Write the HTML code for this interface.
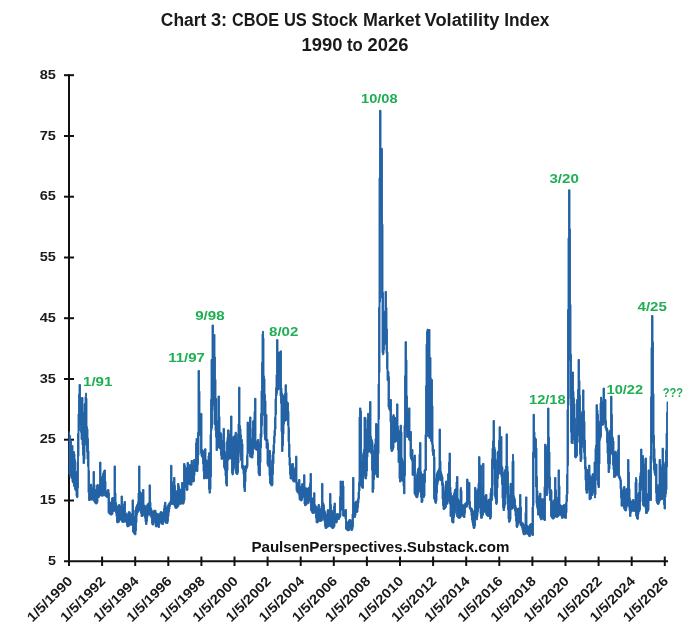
<!DOCTYPE html>
<html><head><meta charset="utf-8"><title>Chart 3: CBOE US Stock Market Volatility Index</title>
<style>
html,body{margin:0;padding:0;background:#fff;}
svg{display:block;font-family:"Liberation Sans",Arial,sans-serif;font-weight:bold;}
</style></head>
<body>
<svg width="700" height="635" viewBox="0 0 700 635">
<rect width="700" height="635" fill="#fff"/>
<g font-size="18" fill="#1a1a1a"><text y="26.2"><tspan x="160.8" textLength="45.5" lengthAdjust="spacingAndGlyphs">Chart</tspan> <tspan x="210.9" textLength="16.2" lengthAdjust="spacingAndGlyphs">3:</tspan> <tspan x="232.1" textLength="46.9" lengthAdjust="spacingAndGlyphs">CBOE</tspan> <tspan x="283.9" textLength="22.9" lengthAdjust="spacingAndGlyphs">US</tspan> <tspan x="311.6" textLength="46.2" lengthAdjust="spacingAndGlyphs">Stock</tspan> <tspan x="363.0" textLength="57.6" lengthAdjust="spacingAndGlyphs">Market</tspan> <tspan x="424.6" textLength="74.8" lengthAdjust="spacingAndGlyphs">Volatility</tspan> <tspan x="504.2" textLength="45.2" lengthAdjust="spacingAndGlyphs">Index</tspan></text><text y="51.3"><tspan x="301.6" textLength="40.9" lengthAdjust="spacingAndGlyphs">1990</tspan> <tspan x="347.0" textLength="15.8" lengthAdjust="spacingAndGlyphs">to</tspan> <tspan x="367.5" textLength="41.0" lengthAdjust="spacingAndGlyphs">2026</tspan></text></g>
<g stroke="#111" stroke-width="2">
<line x1="69.0" y1="74.2" x2="69.0" y2="566"/>
<line x1="64" y1="561.2" x2="668" y2="561.2"/>
<line x1="64" y1="500.5" x2="74" y2="500.5"/><line x1="64" y1="439.7" x2="74" y2="439.7"/><line x1="64" y1="379.0" x2="74" y2="379.0"/><line x1="64" y1="318.2" x2="74" y2="318.2"/><line x1="64" y1="257.5" x2="74" y2="257.5"/><line x1="64" y1="196.7" x2="74" y2="196.7"/><line x1="64" y1="136.0" x2="74" y2="136.0"/><line x1="64" y1="75.2" x2="74" y2="75.2"/>
<line x1="102.1" y1="556.5" x2="102.1" y2="566"/><line x1="135.2" y1="556.5" x2="135.2" y2="566"/><line x1="168.3" y1="556.5" x2="168.3" y2="566"/><line x1="201.4" y1="556.5" x2="201.4" y2="566"/><line x1="234.5" y1="556.5" x2="234.5" y2="566"/><line x1="267.6" y1="556.5" x2="267.6" y2="566"/><line x1="300.7" y1="556.5" x2="300.7" y2="566"/><line x1="333.8" y1="556.5" x2="333.8" y2="566"/><line x1="366.9" y1="556.5" x2="366.9" y2="566"/><line x1="400.0" y1="556.5" x2="400.0" y2="566"/><line x1="433.1" y1="556.5" x2="433.1" y2="566"/><line x1="466.2" y1="556.5" x2="466.2" y2="566"/><line x1="499.3" y1="556.5" x2="499.3" y2="566"/><line x1="532.4" y1="556.5" x2="532.4" y2="566"/><line x1="565.5" y1="556.5" x2="565.5" y2="566"/><line x1="598.6" y1="556.5" x2="598.6" y2="566"/><line x1="631.7" y1="556.5" x2="631.7" y2="566"/><line x1="664.8" y1="556.5" x2="664.8" y2="566"/>
</g>
<g font-size="13.5" fill="#1a1a1a"><text x="55.9" y="564.9" text-anchor="end" textLength="8.0" lengthAdjust="spacingAndGlyphs">5</text><text x="55.9" y="504.2" text-anchor="end" textLength="16.2" lengthAdjust="spacingAndGlyphs">15</text><text x="55.9" y="443.4" text-anchor="end" textLength="16.2" lengthAdjust="spacingAndGlyphs">25</text><text x="55.9" y="382.7" text-anchor="end" textLength="16.2" lengthAdjust="spacingAndGlyphs">35</text><text x="55.9" y="321.9" text-anchor="end" textLength="16.2" lengthAdjust="spacingAndGlyphs">45</text><text x="55.9" y="261.2" text-anchor="end" textLength="16.2" lengthAdjust="spacingAndGlyphs">55</text><text x="55.9" y="200.4" text-anchor="end" textLength="16.2" lengthAdjust="spacingAndGlyphs">65</text><text x="55.9" y="139.7" text-anchor="end" textLength="16.2" lengthAdjust="spacingAndGlyphs">75</text><text x="55.9" y="78.9" text-anchor="end" textLength="16.2" lengthAdjust="spacingAndGlyphs">85</text></g>
<g font-size="13.5" fill="#1a1a1a"><text transform="translate(73.3 582) rotate(-45)" text-anchor="end" textLength="57.6" lengthAdjust="spacingAndGlyphs">1/5/1990</text><text transform="translate(106.4 582) rotate(-45)" text-anchor="end" textLength="57.6" lengthAdjust="spacingAndGlyphs">1/5/1992</text><text transform="translate(139.5 582) rotate(-45)" text-anchor="end" textLength="57.6" lengthAdjust="spacingAndGlyphs">1/5/1994</text><text transform="translate(172.6 582) rotate(-45)" text-anchor="end" textLength="57.6" lengthAdjust="spacingAndGlyphs">1/5/1996</text><text transform="translate(205.7 582) rotate(-45)" text-anchor="end" textLength="57.6" lengthAdjust="spacingAndGlyphs">1/5/1998</text><text transform="translate(238.8 582) rotate(-45)" text-anchor="end" textLength="57.6" lengthAdjust="spacingAndGlyphs">1/5/2000</text><text transform="translate(271.9 582) rotate(-45)" text-anchor="end" textLength="57.6" lengthAdjust="spacingAndGlyphs">1/5/2002</text><text transform="translate(305.0 582) rotate(-45)" text-anchor="end" textLength="57.6" lengthAdjust="spacingAndGlyphs">1/5/2004</text><text transform="translate(338.1 582) rotate(-45)" text-anchor="end" textLength="57.6" lengthAdjust="spacingAndGlyphs">1/5/2006</text><text transform="translate(371.2 582) rotate(-45)" text-anchor="end" textLength="57.6" lengthAdjust="spacingAndGlyphs">1/5/2008</text><text transform="translate(404.3 582) rotate(-45)" text-anchor="end" textLength="57.6" lengthAdjust="spacingAndGlyphs">1/5/2010</text><text transform="translate(437.4 582) rotate(-45)" text-anchor="end" textLength="57.6" lengthAdjust="spacingAndGlyphs">1/5/2012</text><text transform="translate(470.5 582) rotate(-45)" text-anchor="end" textLength="57.6" lengthAdjust="spacingAndGlyphs">1/5/2014</text><text transform="translate(503.6 582) rotate(-45)" text-anchor="end" textLength="57.6" lengthAdjust="spacingAndGlyphs">1/5/2016</text><text transform="translate(536.7 582) rotate(-45)" text-anchor="end" textLength="57.6" lengthAdjust="spacingAndGlyphs">1/5/2018</text><text transform="translate(569.8 582) rotate(-45)" text-anchor="end" textLength="57.6" lengthAdjust="spacingAndGlyphs">1/5/2020</text><text transform="translate(602.9 582) rotate(-45)" text-anchor="end" textLength="57.6" lengthAdjust="spacingAndGlyphs">1/5/2022</text><text transform="translate(636.0 582) rotate(-45)" text-anchor="end" textLength="57.6" lengthAdjust="spacingAndGlyphs">1/5/2024</text><text transform="translate(669.1 582) rotate(-45)" text-anchor="end" textLength="57.6" lengthAdjust="spacingAndGlyphs">1/5/2026</text></g>
<path d="M69.00 431.5L69.50 431.5L69.50 435.5L70.50 435.5L70.50 440.5L71.50 440.5L71.50 445.5L73.00 445.5L73.00 451.5L74.50 451.5L74.50 453.9L75.00 453.9L75.00 459.5L75.50 459.5L75.50 471.5L77.00 471.5L77.00 461.7L77.50 461.7L77.50 433.6L78.00 433.6L78.00 414.0L78.50 414.0L78.50 394.3L79.00 394.3L79.00 384.5L80.50 384.5L80.50 398.1L81.50 398.1L81.50 397.5L83.00 397.5L83.00 412.0L83.50 412.0L83.50 418.2L84.00 418.2L84.00 404.1L84.50 404.1L84.50 403.5L85.00 403.5L85.00 396.8L85.50 396.8L85.50 393.1L86.50 393.1L86.50 398.2L87.00 398.2L87.00 426.8L87.50 426.8L87.50 428.9L88.00 428.9L88.00 438.4L88.50 438.4L88.50 451.1L89.00 451.1L89.00 470.6L89.50 470.6L89.50 487.7L90.00 487.7L90.00 484.6L90.50 484.6L90.50 484.0L91.50 484.0L91.50 484.6L92.00 484.6L92.00 487.7L92.50 487.7L92.50 487.4L93.00 487.4L93.00 471.5L94.50 471.5L94.50 484.6L95.00 484.6L95.00 489.3L95.50 489.3L95.50 489.5L96.00 489.5L96.00 489.6L96.50 489.6L96.50 485.3L97.00 485.3L97.00 484.5L98.00 484.5L98.00 484.7L98.50 484.7L98.50 486.5L99.00 486.5L99.00 485.0L99.50 485.0L99.50 462.1L101.00 462.1L101.00 476.9L101.50 476.9L101.50 477.8L102.00 477.8L102.00 475.7L102.50 475.7L102.50 473.7L103.00 473.7L103.00 472.3L103.50 472.3L103.50 471.1L104.00 471.1L104.00 470.0L105.50 470.0L105.50 481.2L106.00 481.2L106.00 490.9L106.50 490.9L106.50 491.1L107.00 491.1L107.00 490.4L107.50 490.4L107.50 489.6L108.00 489.6L108.00 489.5L109.00 489.5L109.00 493.0L109.50 493.0L109.50 501.8L110.00 501.8L110.00 502.0L110.50 502.0L110.50 502.1L111.00 502.1L111.00 502.1L111.50 502.1L111.50 498.2L112.00 498.2L112.00 497.5L113.00 497.5L113.00 497.6L113.50 497.6L113.50 498.5L114.00 498.5L114.00 466.0L115.50 466.0L115.50 493.1L116.00 493.1L116.00 502.5L116.50 502.5L116.50 504.7L117.00 504.7L117.00 506.4L117.50 506.4L117.50 508.2L118.00 508.2L118.00 505.2L118.50 505.2L118.50 504.5L119.50 504.5L119.50 504.6L120.00 504.6L120.00 506.1L120.50 506.1L120.50 505.9L121.00 505.9L121.00 496.0L122.50 496.0L122.50 506.8L123.00 506.8L123.00 507.1L123.50 507.1L123.50 504.0L124.00 504.0L124.00 501.5L125.50 501.5L125.50 512.9L126.00 512.9L126.00 513.1L126.50 513.1L126.50 513.4L127.00 513.4L127.00 514.1L127.50 514.1L127.50 514.9L128.00 514.9L128.00 512.1L128.50 512.1L128.50 511.5L129.50 511.5L129.50 511.6L130.00 511.6L130.00 512.6L130.50 512.6L130.50 513.6L131.00 513.6L131.00 514.0L131.50 514.0L131.50 513.9L132.00 513.9L132.00 499.9L133.50 499.9L133.50 509.9L134.00 509.9L134.00 516.1L134.50 516.1L134.50 516.4L135.00 516.4L135.00 509.8L135.50 509.8L135.50 507.4L136.00 507.4L136.00 506.1L136.50 506.1L136.50 504.9L137.00 504.9L137.00 504.0L137.50 504.0L137.50 502.2L138.00 502.2L138.00 493.1L138.50 493.1L138.50 466.0L140.00 466.0L140.00 491.5L140.50 491.5L140.50 492.0L141.00 492.0L141.00 492.7L141.50 492.7L141.50 494.4L142.00 494.4L142.00 492.8L142.50 492.8L142.50 489.5L144.00 489.5L144.00 504.9L144.50 504.9L144.50 505.2L145.00 505.2L145.00 505.6L145.50 505.6L145.50 506.8L146.00 506.8L146.00 507.2L146.50 507.2L146.50 505.3L147.00 505.3L147.00 503.9L147.50 503.9L147.50 503.7L148.00 503.7L148.00 503.2L148.50 503.2L148.50 502.6L149.00 502.6L149.00 484.9L150.50 484.9L150.50 502.2L151.00 502.2L151.00 508.0L151.50 508.0L151.50 509.2L152.00 509.2L152.00 511.1L152.50 511.1L152.50 512.1L153.00 512.1L153.00 510.7L153.50 510.7L153.50 510.5L154.00 510.5L154.00 510.3L154.50 510.3L154.50 510.2L155.00 510.2L155.00 510.2L156.00 510.2L156.00 512.4L156.50 512.4L156.50 513.6L157.00 513.6L157.00 513.5L158.00 513.5L158.00 513.6L158.50 513.6L158.50 515.1L159.00 515.1L159.00 514.1L159.50 514.1L159.50 513.4L160.00 513.4L160.00 511.8L160.50 511.8L160.50 511.5L161.50 511.5L161.50 511.6L162.00 511.6L162.00 512.7L162.50 512.7L162.50 512.9L163.00 512.9L163.00 511.6L163.50 511.6L163.50 508.3L164.00 508.3L164.00 504.8L164.50 504.8L164.50 502.3L166.00 502.3L166.00 506.6L166.50 506.6L166.50 507.9L167.00 507.9L167.00 506.6L167.50 506.6L167.50 505.2L168.00 505.2L168.00 504.3L168.50 504.3L168.50 503.4L169.00 503.4L169.00 502.7L169.50 502.7L169.50 502.2L170.00 502.2L170.00 500.7L170.50 500.7L170.50 465.3L172.00 465.3L172.00 481.5L172.50 481.5L172.50 484.1L173.00 484.1L173.00 484.4L173.50 484.4L173.50 477.5L175.00 477.5L175.00 485.5L175.50 485.5L175.50 490.3L176.00 490.3L176.00 491.4L176.50 491.4L176.50 490.8L177.00 490.8L177.00 490.3L177.50 490.3L177.50 483.5L179.00 483.5L179.00 486.0L179.50 486.0L179.50 489.1L180.00 489.1L180.00 489.2L180.50 489.2L180.50 489.0L181.00 489.0L181.00 488.9L181.50 488.9L181.50 482.5L183.00 482.5L183.00 486.8L183.50 486.8L183.50 463.5L185.00 463.5L185.00 465.5L185.50 465.5L185.50 467.7L187.00 467.7L187.00 462.5L188.50 462.5L188.50 466.5L189.00 466.5L189.00 464.8L189.50 464.8L189.50 464.6L190.50 464.6L190.50 465.2L191.00 465.2L191.00 460.5L192.50 460.5L192.50 464.8L193.00 464.8L193.00 466.0L193.50 466.0L193.50 459.5L195.00 459.5L195.00 460.3L195.50 460.3L195.50 442.9L196.00 442.9L196.00 438.5L197.00 438.5L197.00 439.9L197.50 439.9L197.50 432.6L198.00 432.6L198.00 370.5L199.50 370.5L199.50 391.2L200.00 391.2L200.00 413.9L200.50 413.9L200.50 413.4L202.00 413.4L202.00 449.5L202.50 449.5L202.50 450.0L203.00 450.0L203.00 450.4L203.50 450.4L203.50 451.6L204.00 451.6L204.00 453.3L204.50 453.3L204.50 448.8L206.00 448.8L206.00 459.4L206.50 459.4L206.50 460.6L207.00 460.6L207.00 460.7L207.50 460.7L207.50 460.1L208.00 460.1L208.00 455.9L208.50 455.9L208.50 452.8L210.00 452.8L210.00 434.5L210.50 434.5L210.50 399.5L211.00 399.5L211.00 359.5L212.00 359.5L212.00 325.0L213.50 325.0L213.50 334.5L215.00 334.5L215.00 357.0L215.50 357.0L215.50 379.5L216.00 379.5L216.00 398.6L217.00 398.6L217.00 422.1L217.50 422.1L217.50 420.6L218.00 420.6L218.00 396.0L219.50 396.0L219.50 416.5L220.00 416.5L220.00 432.1L220.50 432.1L220.50 432.5L221.00 432.5L221.00 433.0L221.50 433.0L221.50 434.4L222.00 434.4L222.00 441.0L222.50 441.0L222.50 440.4L223.00 440.4L223.00 428.4L224.50 428.4L224.50 442.3L225.00 442.3L225.00 451.6L225.50 451.6L225.50 453.0L226.00 453.0L226.00 454.4L226.50 454.4L226.50 441.2L227.00 441.2L227.00 437.2L227.50 437.2L227.50 429.9L229.00 429.9L229.00 434.0L229.50 434.0L229.50 435.0L230.00 435.0L230.00 430.0L230.50 430.0L230.50 416.0L232.00 416.0L232.00 436.7L232.50 436.7L232.50 440.5L233.00 440.5L233.00 437.6L233.50 437.6L233.50 436.1L234.00 436.1L234.00 435.8L234.50 435.8L234.50 435.6L235.00 435.6L235.00 432.3L236.50 432.3L236.50 437.5L237.00 437.5L237.00 439.4L237.50 439.4L237.50 434.1L238.00 434.1L238.00 424.0L238.50 424.0L238.50 387.2L240.00 387.2L240.00 425.5L240.50 425.5L240.50 428.6L241.00 428.6L241.00 434.8L241.50 434.8L241.50 439.5L242.50 439.5L242.50 443.7L243.00 443.7L243.00 465.5L243.50 465.5L243.50 465.8L244.00 465.8L244.00 466.1L244.50 466.1L244.50 467.2L245.00 467.2L245.00 465.9L245.50 465.9L245.50 465.5L246.00 465.5L246.00 465.1L246.50 465.1L246.50 455.4L247.00 455.4L247.00 422.1L248.50 422.1L248.50 426.8L249.00 426.8L249.00 423.4L249.50 423.4L249.50 417.0L251.00 417.0L251.00 438.3L251.50 438.3L251.50 439.3L252.00 439.3L252.00 428.3L252.50 428.3L252.50 421.1L253.00 421.1L253.00 420.4L253.50 420.4L253.50 420.1L254.00 420.1L254.00 411.5L254.50 411.5L254.50 398.3L256.00 398.3L256.00 441.1L256.50 441.1L256.50 441.5L257.00 441.5L257.00 440.2L257.50 440.2L257.50 439.5L259.00 439.5L259.00 449.4L259.50 449.4L259.50 442.6L260.00 442.6L260.00 433.5L260.50 433.5L260.50 413.5L261.00 413.5L261.00 391.0L261.50 391.0L261.50 362.6L262.00 362.6L262.00 334.1L262.50 334.1L262.50 331.3L263.50 331.3L263.50 338.1L264.00 338.1L264.00 375.9L264.50 375.9L264.50 378.7L265.00 378.7L265.00 394.5L265.50 394.5L265.50 400.8L266.00 400.8L266.00 414.5L267.00 414.5L267.00 439.5L268.00 439.5L268.00 443.2L268.50 443.2L268.50 453.6L269.00 453.6L269.00 450.4L270.50 450.4L270.50 466.6L271.00 466.6L271.00 467.5L271.50 467.5L271.50 460.4L272.00 460.4L272.00 454.7L272.50 454.7L272.50 451.6L273.00 451.6L273.00 444.5L273.50 444.5L273.50 436.2L274.00 436.2L274.00 429.8L274.50 429.8L274.50 417.2L275.00 417.2L275.00 398.8L275.50 398.8L275.50 387.7L276.00 387.7L276.00 374.7L276.50 374.7L276.50 339.6L278.00 339.6L278.00 352.8L278.50 352.8L278.50 352.0L279.50 352.0L279.50 352.2L280.00 352.2L280.00 350.9L281.50 350.9L281.50 388.1L282.00 388.1L282.00 393.0L282.50 393.0L282.50 407.9L283.00 407.9L283.00 395.9L283.50 395.9L283.50 395.1L284.00 395.1L284.00 394.4L284.50 394.4L284.50 393.6L285.00 393.6L285.00 384.8L286.50 384.8L286.50 392.5L287.00 392.5L287.00 401.7L287.50 401.7L287.50 402.2L288.00 402.2L288.00 402.8L288.50 402.8L288.50 411.3L289.00 411.3L289.00 427.8L289.50 427.8L289.50 443.9L290.00 443.9L290.00 457.7L290.50 457.7L290.50 464.4L291.00 464.4L291.00 464.7L291.50 464.7L291.50 463.8L292.00 463.8L292.00 463.5L293.50 463.5L293.50 468.3L294.00 468.3L294.00 468.4L294.50 468.4L294.50 468.2L295.00 468.2L295.00 466.5L295.50 466.5L295.50 456.2L297.00 456.2L297.00 482.2L297.50 482.2L297.50 482.6L298.00 482.6L298.00 482.2L298.50 482.2L298.50 479.5L300.00 479.5L300.00 486.7L300.50 486.7L300.50 486.6L301.00 486.6L301.00 485.2L301.50 485.2L301.50 483.8L302.00 483.8L302.00 483.5L302.50 483.5L302.50 483.4L303.00 483.4L303.00 483.3L303.50 483.3L303.50 474.8L305.00 474.8L305.00 487.3L305.50 487.3L305.50 488.5L306.00 488.5L306.00 487.9L307.00 487.9L307.00 488.0L307.50 488.0L307.50 489.4L308.00 489.4L308.00 488.0L308.50 488.0L308.50 487.2L309.00 487.2L309.00 486.6L309.50 486.6L309.50 483.3L310.00 483.3L310.00 473.5L311.50 473.5L311.50 497.6L312.00 497.6L312.00 497.9L312.50 497.9L312.50 498.1L313.00 498.1L313.00 498.1L313.50 498.1L313.50 492.8L315.00 492.8L315.00 504.5L315.50 504.5L315.50 505.7L316.00 505.7L316.00 506.0L316.50 506.0L316.50 507.2L317.00 507.2L317.00 508.5L317.50 508.5L317.50 506.7L318.00 506.7L318.00 504.5L319.50 504.5L319.50 508.9L320.00 508.9L320.00 508.8L320.50 508.8L320.50 508.5L321.00 508.5L321.00 506.0L321.50 506.0L321.50 483.4L323.00 483.4L323.00 502.5L323.50 502.5L323.50 503.5L324.00 503.5L324.00 505.1L324.50 505.1L324.50 509.9L325.00 509.9L325.00 511.7L325.50 511.7L325.50 513.1L326.00 513.1L326.00 514.5L326.50 514.5L326.50 514.4L327.00 514.4L327.00 510.3L327.50 510.3L327.50 509.5L328.50 509.5L328.50 510.1L329.00 510.1L329.00 512.9L329.50 512.9L329.50 493.5L331.00 493.5L331.00 504.5L331.50 504.5L331.50 509.7L332.00 509.7L332.00 510.5L332.50 510.5L332.50 511.3L333.00 511.3L333.00 510.6L333.50 510.6L333.50 506.2L334.00 506.2L334.00 503.1L335.50 503.1L335.50 515.5L336.00 515.5L336.00 514.8L336.50 514.8L336.50 513.6L337.00 513.6L337.00 513.5L338.00 513.5L338.00 513.6L338.50 513.6L338.50 514.3L339.00 514.3L339.00 514.1L339.50 514.1L339.50 496.8L340.00 496.8L340.00 481.0L341.50 481.0L341.50 484.7L342.00 484.7L342.00 481.6L342.50 481.6L342.50 481.0L343.50 481.0L343.50 485.9L344.00 485.9L344.00 510.5L344.50 510.5L344.50 510.0L345.00 510.0L345.00 509.5L346.50 509.5L346.50 520.8L347.00 520.8L347.00 522.1L347.50 522.1L347.50 522.2L348.00 522.2L348.00 521.5L348.50 521.5L348.50 520.3L349.00 520.3L349.00 519.5L350.50 519.5L350.50 519.8L351.00 519.8L351.00 520.2L351.50 520.2L351.50 520.8L352.00 520.8L352.00 514.1L352.50 514.1L352.50 477.5L354.00 477.5L354.00 502.9L354.50 502.9L354.50 502.6L355.00 502.6L355.00 501.5L355.50 501.5L355.50 501.3L356.50 501.3L356.50 501.4L357.00 501.4L357.00 500.0L357.50 500.0L357.50 498.7L358.00 498.7L358.00 491.8L358.50 491.8L358.50 482.3L359.00 482.3L359.00 416.9L359.50 416.9L359.50 407.9L360.50 407.9L360.50 408.2L361.00 408.2L361.00 411.2L361.50 411.2L361.50 460.6L362.00 460.6L362.00 461.9L362.50 461.9L362.50 454.3L363.00 454.3L363.00 451.8L363.50 451.8L363.50 449.4L364.00 449.4L364.00 417.3L365.50 417.3L365.50 417.6L366.00 417.6L366.00 433.7L366.50 433.7L366.50 429.0L367.00 429.0L367.00 419.4L367.50 419.4L367.50 413.4L369.00 413.4L369.00 414.6L369.50 414.6L369.50 401.5L371.00 401.5L371.00 436.4L371.50 436.4L371.50 438.8L372.00 438.8L372.00 440.1L372.50 440.1L372.50 442.0L373.00 442.0L373.00 455.5L373.50 455.5L373.50 450.0L374.00 450.0L374.00 445.1L374.50 445.1L374.50 444.3L375.00 444.3L375.00 438.7L375.50 438.7L375.50 423.5L377.00 423.5L377.00 443.0L377.50 443.0L377.50 424.4L378.00 424.4L378.00 383.8L378.50 383.8L378.50 307.5L379.00 307.5L379.00 177.9L379.50 177.9L379.50 110.3L381.00 110.3L381.00 148.4L382.50 148.4L382.50 224.2L383.00 224.2L383.00 292.5L383.50 292.5L383.50 313.1L384.00 313.1L384.00 312.0L384.50 312.0L384.50 311.0L385.00 311.0L385.00 291.4L386.50 291.4L386.50 307.5L387.00 307.5L387.00 329.0L387.50 329.0L387.50 352.0L388.00 352.0L388.00 371.2L388.50 371.2L388.50 371.5L389.00 371.5L389.00 376.8L389.50 376.8L389.50 400.8L390.00 400.8L390.00 399.5L391.50 399.5L391.50 420.8L392.00 420.8L392.00 432.5L392.50 432.5L392.50 416.0L393.00 416.0L393.00 414.5L394.00 414.5L394.00 415.6L394.50 415.6L394.50 418.1L395.00 418.1L395.00 417.5L396.00 417.5L396.00 417.7L396.50 417.7L396.50 403.9L398.00 403.9L398.00 426.3L398.50 426.3L398.50 429.4L399.00 429.4L399.00 431.0L400.00 431.0L400.00 425.2L401.50 425.2L401.50 432.1L402.00 432.1L402.00 458.1L402.50 458.1L402.50 459.7L403.00 459.7L403.00 461.4L403.50 461.4L403.50 462.9L404.00 462.9L404.00 425.3L404.50 425.3L404.50 375.7L405.00 375.7L405.00 341.7L406.50 341.7L406.50 359.8L407.00 359.8L407.00 395.9L407.50 395.9L407.50 409.9L408.00 409.9L408.00 410.6L408.50 410.6L408.50 407.9L410.00 407.9L410.00 431.5L411.50 431.5L411.50 449.5L413.00 449.5L413.00 458.7L413.50 458.7L413.50 457.6L414.00 457.6L414.00 455.1L415.50 455.1L415.50 477.9L416.00 477.9L416.00 478.9L416.50 478.9L416.50 474.3L417.00 474.3L417.00 471.5L417.50 471.5L417.50 469.0L418.00 469.0L418.00 468.0L418.50 468.0L418.50 467.6L419.00 467.6L419.00 454.1L419.50 454.1L419.50 442.5L421.00 442.5L421.00 471.7L421.50 471.7L421.50 473.7L422.00 473.7L422.00 474.0L423.50 474.0L423.50 474.0L424.00 474.0L424.00 469.9L424.50 469.9L424.50 469.5L425.00 469.5L425.00 434.5L425.50 434.5L425.50 385.8L426.00 385.8L426.00 344.2L426.50 344.2L426.50 331.4L427.00 331.4L427.00 329.2L428.00 329.2L428.00 330.1L428.50 330.1L428.50 329.5L430.00 329.5L430.00 357.5L431.00 357.5L431.00 378.3L431.50 378.3L431.50 379.5L432.50 379.5L432.50 405.8L433.00 405.8L433.00 444.8L433.50 444.8L433.50 449.5L434.50 449.5L434.50 456.9L435.00 456.9L435.00 482.8L435.50 482.8L435.50 478.4L436.00 478.4L436.00 474.4L436.50 474.4L436.50 473.0L437.00 473.0L437.00 471.7L437.50 471.7L437.50 470.6L438.00 470.6L438.00 470.0L438.50 470.0L438.50 468.8L439.00 468.8L439.00 429.1L440.50 429.1L440.50 461.0L441.00 461.0L441.00 471.5L441.50 471.5L441.50 473.3L442.00 473.3L442.00 475.1L442.50 475.1L442.50 476.9L443.00 476.9L443.00 482.8L443.50 482.8L443.50 486.7L444.00 486.7L444.00 490.7L444.50 490.7L444.50 491.2L445.00 491.2L445.00 484.5L445.50 484.5L445.50 481.0L447.00 481.0L447.00 481.2L447.50 481.2L447.50 474.2L448.00 474.2L448.00 473.1L448.50 473.1L448.50 462.1L449.00 462.1L449.00 453.1L450.50 453.1L450.50 487.1L451.00 487.1L451.00 492.8L451.50 492.8L451.50 495.5L452.50 495.5L452.50 496.3L453.00 496.3L453.00 495.7L453.50 495.7L453.50 493.4L454.00 493.4L454.00 491.3L454.50 491.3L454.50 489.5L455.00 489.5L455.00 489.0L455.50 489.0L455.50 488.5L456.00 488.5L456.00 482.0L456.50 482.0L456.50 476.5L458.00 476.5L458.00 498.6L458.50 498.6L458.50 500.2L459.00 500.2L459.00 501.2L459.50 501.2L459.50 499.9L460.00 499.9L460.00 488.7L460.50 488.7L460.50 487.4L461.50 487.4L461.50 490.5L462.00 490.5L462.00 504.4L462.50 504.4L462.50 504.6L463.00 504.6L463.00 504.8L463.50 504.8L463.50 505.1L464.00 505.1L464.00 504.4L464.50 504.4L464.50 503.4L465.00 503.4L465.00 503.2L465.50 503.2L465.50 502.7L466.00 502.7L466.00 502.0L466.50 502.0L466.50 479.1L468.00 479.1L468.00 481.7L468.50 481.7L468.50 482.5L470.00 482.5L470.00 501.5L470.50 501.5L470.50 507.5L471.00 507.5L471.00 507.7L471.50 507.7L471.50 508.0L472.00 508.0L472.00 508.7L472.50 508.7L472.50 510.0L473.00 510.0L473.00 511.2L473.50 511.2L473.50 512.0L474.00 512.0L474.00 509.9L474.50 509.9L474.50 487.4L476.00 487.4L476.00 499.2L476.50 499.2L476.50 490.9L477.00 490.9L477.00 489.2L477.50 489.2L477.50 488.8L478.00 488.8L478.00 483.3L478.50 483.3L478.50 456.7L480.00 456.7L480.00 465.2L481.50 465.2L481.50 497.8L482.00 497.8L482.00 486.3L482.50 486.3L482.50 463.4L484.00 463.4L484.00 496.3L484.50 496.3L484.50 496.1L485.00 496.1L485.00 495.0L485.50 495.0L485.50 494.5L487.00 494.5L487.00 500.2L487.50 500.2L487.50 500.4L488.00 500.4L488.00 499.6L488.50 499.6L488.50 499.0L490.00 499.0L490.00 492.7L490.50 492.7L490.50 488.5L491.50 488.5L491.50 458.9L492.00 458.9L492.00 448.2L492.50 448.2L492.50 440.9L493.00 440.9L493.00 420.5L494.50 420.5L494.50 446.8L495.00 446.8L495.00 449.3L495.50 449.3L495.50 458.6L496.00 458.6L496.00 473.5L496.50 473.5L496.50 460.2L497.00 460.2L497.00 452.1L497.50 452.1L497.50 451.3L498.00 451.3L498.00 450.9L498.50 450.9L498.50 440.6L499.00 440.6L499.00 426.8L500.50 426.8L500.50 436.5L502.00 436.5L502.00 466.1L502.50 466.1L502.50 467.5L503.00 467.5L503.00 472.2L503.50 472.2L503.50 478.6L504.00 478.6L504.00 471.4L504.50 471.4L504.50 469.7L505.00 469.7L505.00 469.2L505.50 469.2L505.50 466.0L506.00 466.0L506.00 433.9L507.50 433.9L507.50 466.2L508.00 466.2L508.00 471.7L508.50 471.7L508.50 485.9L509.00 485.9L509.00 494.7L509.50 494.7L509.50 495.5L510.00 495.5L510.00 483.3L511.50 483.3L511.50 488.0L512.00 488.0L512.00 461.4L512.50 461.4L512.50 454.3L513.50 454.3L513.50 460.7L514.00 460.7L514.00 495.8L514.50 495.8L514.50 497.6L515.00 497.6L515.00 499.3L515.50 499.3L515.50 505.1L516.00 505.1L516.00 507.3L516.50 507.3L516.50 508.8L517.00 508.8L517.00 508.6L517.50 508.6L517.50 508.2L518.00 508.2L518.00 508.1L518.50 508.1L518.50 508.0L519.00 508.0L519.00 507.8L519.50 507.8L519.50 494.5L521.00 494.5L521.00 507.2L521.50 507.2L521.50 521.9L522.00 521.9L522.00 522.2L522.50 522.2L522.50 522.6L523.00 522.6L523.00 523.4L523.50 523.4L523.50 524.1L524.00 524.1L524.00 524.7L524.50 524.7L524.50 524.4L525.00 524.4L525.00 512.5L525.50 512.5L525.50 496.9L527.00 496.9L527.00 525.3L527.50 525.3L527.50 525.6L528.00 525.6L528.00 525.9L528.50 525.9L528.50 526.2L529.00 526.2L529.00 526.1L529.50 526.1L529.50 524.6L530.00 524.6L530.00 523.9L530.50 523.9L530.50 523.6L531.00 523.6L531.00 523.5L532.00 523.5L532.00 507.0L532.50 507.0L532.50 452.3L533.00 452.3L533.00 414.3L534.50 414.3L534.50 432.0L535.00 432.0L535.00 437.6L535.50 437.6L535.50 438.3L536.00 438.3L536.00 439.0L536.50 439.0L536.50 448.1L537.00 448.1L537.00 476.6L537.50 476.6L537.50 490.7L538.00 490.7L538.00 495.8L538.50 495.8L538.50 498.3L539.00 498.3L539.00 495.8L539.50 495.8L539.50 493.2L541.00 493.2L541.00 500.1L541.50 500.1L541.50 498.8L542.00 498.8L542.00 498.7L543.00 498.7L543.00 498.7L543.50 498.7L543.50 499.2L544.00 499.2L544.00 486.6L544.50 486.6L544.50 444.2L546.00 444.2L546.00 450.6L546.50 450.6L546.50 446.8L547.00 446.8L547.00 444.6L547.50 444.6L547.50 408.1L549.00 408.1L549.00 437.2L549.50 437.2L549.50 452.0L550.00 452.0L550.00 477.0L550.50 477.0L550.50 489.5L551.50 489.5L551.50 490.7L552.00 490.7L552.00 500.6L552.50 500.6L552.50 501.4L553.00 501.4L553.00 501.4L553.50 501.4L553.50 500.2L554.00 500.2L554.00 499.1L554.50 499.1L554.50 477.5L556.00 477.5L556.00 489.9L556.50 489.9L556.50 498.8L557.00 498.8L557.00 498.5L557.50 498.5L557.50 497.1L558.00 497.1L558.00 469.9L559.50 469.9L559.50 485.8L560.00 485.8L560.00 504.5L560.50 504.5L560.50 504.9L561.00 504.9L561.00 505.2L561.50 505.2L561.50 505.9L562.00 505.9L562.00 506.8L562.50 506.8L562.50 505.6L563.00 505.6L563.00 505.0L563.50 505.0L563.50 504.6L564.00 504.6L564.00 504.5L565.50 504.5L565.50 502.8L566.00 502.8L566.00 494.5L566.50 494.5L566.50 474.5L567.00 474.5L567.00 409.5L567.50 409.5L567.50 309.5L568.00 309.5L568.00 237.8L568.50 237.8L568.50 189.8L570.00 189.8L570.00 229.0L570.50 229.0L570.50 304.5L571.00 304.5L571.00 354.5L571.50 354.5L571.50 377.2L572.00 377.2L572.00 372.0L573.50 372.0L573.50 391.3L574.00 391.3L574.00 398.2L574.50 398.2L574.50 403.4L575.00 403.4L575.00 418.2L575.50 418.2L575.50 430.7L576.00 430.7L576.00 426.1L576.50 426.1L576.50 399.5L577.50 399.5L577.50 389.5L578.00 389.5L578.00 359.5L579.50 359.5L579.50 380.6L580.00 380.6L580.00 395.6L580.50 395.6L580.50 417.0L581.00 417.0L581.00 413.5L581.50 413.5L581.50 412.1L582.00 412.1L582.00 410.6L582.50 410.6L582.50 389.9L584.00 389.9L584.00 410.7L584.50 410.7L584.50 421.4L585.00 421.4L585.00 440.1L585.50 440.1L585.50 456.7L586.00 456.7L586.00 466.9L586.50 466.9L586.50 470.0L587.00 470.0L587.00 469.4L588.00 469.4L588.00 469.5L588.50 469.5L588.50 465.1L590.00 465.1L590.00 475.1L590.50 475.1L590.50 476.7L591.50 476.7L591.50 476.2L592.00 476.2L592.00 473.9L592.50 473.9L592.50 473.6L593.00 473.6L593.00 473.5L593.50 473.5L593.50 473.4L594.00 473.4L594.00 462.0L595.00 462.0L595.00 448.5L595.50 448.5L595.50 445.2L596.00 445.2L596.00 404.7L597.50 404.7L597.50 409.9L598.00 409.9L598.00 414.2L598.50 414.2L598.50 427.1L599.00 427.1L599.00 422.9L599.50 422.9L599.50 421.1L600.00 421.1L600.00 403.1L600.50 403.1L600.50 397.1L601.50 397.1L601.50 398.0L602.00 398.0L602.00 403.1L602.50 403.1L602.50 401.0L603.00 401.0L603.00 388.1L604.50 388.1L604.50 399.5L606.00 399.5L606.00 420.6L606.50 420.6L606.50 427.5L607.00 427.5L607.00 427.9L607.50 427.9L607.50 429.1L608.00 429.1L608.00 432.4L608.50 432.4L608.50 436.9L609.00 436.9L609.00 431.0L609.50 431.0L609.50 430.4L610.00 430.4L610.00 429.9L610.50 429.9L610.50 396.2L612.00 396.2L612.00 414.5L612.50 414.5L612.50 436.3L613.00 436.3L613.00 438.0L613.50 438.0L613.50 441.0L614.00 441.0L614.00 451.7L614.50 451.7L614.50 452.1L615.00 452.1L615.00 451.2L616.00 451.2L616.00 451.8L616.50 451.8L616.50 455.1L617.00 455.1L617.00 454.8L617.50 454.8L617.50 449.7L618.00 449.7L618.00 435.3L619.50 435.3L619.50 475.4L620.00 475.4L620.00 476.8L620.50 476.8L620.50 478.2L621.00 478.2L621.00 480.4L621.50 480.4L621.50 487.4L622.00 487.4L622.00 490.2L622.50 490.2L622.50 491.6L623.00 491.6L623.00 488.9L623.50 488.9L623.50 486.5L625.00 486.5L625.00 491.7L625.50 491.7L625.50 489.2L626.00 489.2L626.00 488.6L626.50 488.6L626.50 488.3L627.00 488.3L627.00 487.9L627.50 487.9L627.50 459.5L629.00 459.5L629.00 472.2L629.50 472.2L629.50 488.6L630.00 488.6L630.00 498.6L630.50 498.6L630.50 501.0L632.00 501.0L632.00 500.5L632.50 500.5L632.50 499.5L634.00 499.5L634.00 500.2L634.50 500.2L634.50 501.7L635.00 501.7L635.00 482.1L635.50 482.1L635.50 477.5L636.50 477.5L636.50 479.2L637.00 479.2L637.00 499.5L637.50 499.5L637.50 494.1L638.00 494.1L638.00 492.5L639.00 492.5L639.00 482.5L639.50 482.5L639.50 476.3L640.00 476.3L640.00 472.5L640.50 472.5L640.50 449.1L642.00 449.1L642.00 456.1L642.50 456.1L642.50 455.5L643.50 455.5L643.50 459.3L644.00 459.3L644.00 486.5L644.50 486.5L644.50 464.0L645.00 464.0L645.00 458.0L646.50 458.0L646.50 493.5L647.00 493.5L647.00 494.3L647.50 494.3L647.50 493.3L648.00 493.3L648.00 469.9L649.50 469.9L649.50 476.1L650.00 476.1L650.00 455.7L650.50 455.7L650.50 397.0L651.00 397.0L651.00 347.5L651.50 347.5L651.50 315.5L653.00 315.5L653.00 341.9L653.50 341.9L653.50 393.7L654.00 393.7L654.00 435.3L654.50 435.3L654.50 448.5L655.00 448.5L655.00 458.8L655.50 458.8L655.50 464.1L657.00 464.1L657.00 484.6L657.50 484.6L657.50 485.8L658.00 485.8L658.00 485.9L658.50 485.9L658.50 484.4L659.00 484.4L659.00 459.5L660.50 459.5L660.50 464.1L661.00 464.1L661.00 478.0L661.50 478.0L661.50 466.7L662.00 466.7L662.00 448.2L663.50 448.2L663.50 461.5L664.00 461.5L664.00 464.2L664.50 464.2L664.50 471.6L665.00 471.6L665.00 462.1L665.50 462.1L665.50 450.4L666.00 450.4L666.00 433.2L666.50 433.2L666.50 412.3L667.00 412.3L667.00 401.8L667.50 401.8L667.50 445.0L667.50 445.0L667.50 466.9L667.00 466.9L667.00 489.8L666.50 489.8L666.50 493.7L666.00 493.7L666.00 497.1L665.50 497.1L665.50 509.0L664.00 509.0L664.00 504.7L663.50 504.7L663.50 497.7L663.00 497.7L663.00 499.0L662.50 499.0L662.50 499.7L661.00 499.7L661.00 499.4L660.50 499.4L660.50 500.6L660.00 500.6L660.00 501.6L659.50 501.6L659.50 503.1L659.00 503.1L659.00 504.4L657.50 504.4L657.50 504.0L657.00 504.0L657.00 502.8L656.50 502.8L656.50 501.6L656.00 501.6L656.00 492.9L655.50 492.9L655.50 475.5L654.50 475.5L654.50 473.3L654.00 473.3L654.00 470.1L653.50 470.1L653.50 462.5L653.00 462.5L653.00 443.0L652.50 443.0L652.50 401.3L652.00 401.3L652.00 459.7L651.50 459.7L651.50 500.5L650.00 500.5L650.00 500.4L649.50 500.4L649.50 500.9L649.00 500.9L649.00 510.1L648.50 510.1L648.50 511.1L648.00 511.1L648.00 512.2L647.50 512.2L647.50 513.2L647.00 513.2L647.00 513.5L645.50 513.5L645.50 508.4L645.00 508.4L645.00 506.0L644.50 506.0L644.50 506.2L643.00 506.2L643.00 505.1L642.50 505.1L642.50 485.5L642.00 485.5L642.00 488.1L641.50 488.1L641.50 490.3L641.00 490.3L641.00 501.9L640.50 501.9L640.50 509.7L640.00 509.7L640.00 511.5L639.00 511.5L639.00 514.4L638.50 514.4L638.50 519.2L637.00 519.2L637.00 518.7L636.50 518.7L636.50 517.1L636.00 517.1L636.00 515.5L635.50 515.5L635.50 511.4L635.00 511.4L635.00 511.5L633.50 511.5L633.50 510.2L633.00 510.2L633.00 511.2L631.50 511.2L631.50 512.6L631.00 512.6L631.00 516.4L629.50 516.4L629.50 510.6L629.00 510.6L629.00 506.7L628.50 506.7L628.50 505.6L628.00 505.6L628.00 505.9L627.50 505.9L627.50 506.2L627.00 506.2L627.00 508.6L626.50 508.6L626.50 510.9L625.00 510.9L625.00 510.6L624.50 510.6L624.50 509.6L624.00 509.6L624.00 508.6L623.50 508.6L623.50 506.0L623.00 506.0L623.00 506.2L622.50 506.2L622.50 506.2L621.00 506.2L621.00 497.9L620.50 497.9L620.50 488.8L620.00 488.8L620.00 480.4L619.50 480.4L619.50 479.0L619.00 479.0L619.00 477.6L618.50 477.6L618.50 476.9L618.00 476.9L618.00 474.9L617.50 474.9L617.50 475.2L617.00 475.2L617.00 475.2L616.00 475.2L616.00 476.8L615.50 476.8L615.50 477.1L615.00 477.1L615.00 477.5L613.50 477.5L613.50 469.8L613.00 469.8L613.00 465.2L612.50 465.2L612.50 455.3L612.00 455.3L612.00 453.6L611.50 453.6L611.50 453.0L611.00 453.0L611.00 454.7L610.50 454.7L610.50 463.7L610.00 463.7L610.00 469.0L609.50 469.0L609.50 472.5L608.00 472.5L608.00 463.5L607.50 463.5L607.50 453.5L607.00 453.5L607.00 442.7L606.50 442.7L606.50 431.6L606.00 431.6L606.00 429.4L605.50 429.4L605.50 428.3L605.00 428.3L605.00 423.3L604.50 423.3L604.50 422.5L604.00 422.5L604.00 424.8L603.50 424.8L603.50 425.1L603.00 425.1L603.00 425.4L602.50 425.4L602.50 425.5L601.50 425.5L601.50 436.7L601.00 436.7L601.00 438.5L600.50 438.5L600.50 440.3L600.00 440.3L600.00 464.0L599.50 464.0L599.50 487.5L598.00 487.5L598.00 484.9L597.50 484.9L597.50 465.5L597.00 465.5L597.00 463.9L596.50 463.9L596.50 480.3L596.00 480.3L596.00 494.9L595.50 494.9L595.50 497.9L594.50 497.9L594.50 492.7L594.00 492.7L594.00 490.5L593.50 490.5L593.50 493.2L593.00 493.2L593.00 495.5L592.50 495.5L592.50 495.7L591.50 495.7L591.50 498.5L591.00 498.5L591.00 499.4L590.50 499.4L590.50 499.7L589.00 499.7L589.00 490.0L588.00 490.0L588.00 492.9L587.50 492.9L587.50 493.2L586.00 493.2L586.00 490.2L585.50 490.2L585.50 480.3L585.00 480.3L585.00 469.1L584.50 469.1L584.50 459.5L584.00 459.5L584.00 452.4L583.50 452.4L583.50 442.8L583.00 442.8L583.00 444.2L582.50 444.2L582.50 447.7L582.00 447.7L582.00 459.5L581.50 459.5L581.50 461.5L580.00 461.5L580.00 454.2L579.50 454.2L579.50 443.0L579.00 443.0L579.00 432.2L578.50 432.2L578.50 435.5L578.00 435.5L578.00 442.1L577.50 442.1L577.50 456.0L577.00 456.0L577.00 456.5L576.50 456.5L576.50 457.8L576.00 457.8L576.00 458.0L575.00 458.0L575.00 456.8L574.50 456.8L574.50 444.3L574.00 444.3L574.00 440.0L573.50 440.0L573.50 428.6L573.00 428.6L573.00 443.5L571.50 443.5L571.50 442.9L571.00 442.9L571.00 432.2L570.50 432.2L570.50 398.8L570.00 398.8L570.00 360.5L569.50 360.5L569.50 308.6L569.00 308.6L569.00 405.5L568.50 405.5L568.50 465.5L568.00 465.5L568.00 494.1L567.50 494.1L567.50 501.6L567.00 501.6L567.00 512.7L566.50 512.7L566.50 518.3L565.00 518.3L565.00 518.1L564.50 518.1L564.50 517.9L564.00 517.9L564.00 516.6L563.50 516.6L563.50 517.9L563.00 517.9L563.00 518.3L561.50 518.3L561.50 516.6L561.00 516.6L561.00 515.6L560.50 515.6L560.50 514.7L560.00 514.7L560.00 514.2L559.50 514.2L559.50 515.7L559.00 515.7L559.00 516.2L558.50 516.2L558.50 516.6L558.00 516.6L558.00 517.0L557.50 517.0L557.50 517.4L556.00 517.4L556.00 517.0L555.50 517.0L555.50 517.0L555.00 517.0L555.00 517.3L554.50 517.3L554.50 518.3L554.00 518.3L554.00 519.1L552.50 519.1L552.50 518.7L552.00 518.7L552.00 518.0L551.50 518.0L551.50 517.2L551.00 517.2L551.00 516.4L550.50 516.4L550.50 500.5L549.50 500.5L549.50 494.0L549.00 494.0L549.00 488.0L548.50 488.0L548.50 465.1L548.00 465.1L548.00 490.7L547.50 490.7L547.50 495.5L546.00 495.5L546.00 495.0L545.50 495.0L545.50 520.5L544.00 520.5L544.00 519.8L543.50 519.8L543.50 519.1L543.00 519.1L543.00 518.5L542.50 518.5L542.50 519.5L542.00 519.5L542.00 519.8L540.50 519.8L540.50 518.6L540.00 518.6L540.00 517.3L539.50 517.3L539.50 515.0L539.00 515.0L539.00 515.1L537.50 515.1L537.50 509.4L537.00 509.4L537.00 507.0L536.50 507.0L536.50 503.4L536.00 503.4L536.00 486.9L535.50 486.9L535.50 458.4L535.00 458.4L535.00 454.9L534.50 454.9L534.50 457.5L534.00 457.5L534.00 505.7L533.50 505.7L533.50 535.5L532.00 535.5L532.00 534.8L531.50 534.8L531.50 533.4L531.00 533.4L531.00 534.5L530.50 534.5L530.50 536.5L529.00 536.5L529.00 536.2L528.50 536.2L528.50 535.1L528.00 535.1L528.00 534.6L527.50 534.6L527.50 534.3L527.00 534.3L527.00 534.0L526.50 534.0L526.50 533.8L526.00 533.8L526.00 534.1L525.50 534.1L525.50 534.5L525.00 534.5L525.00 534.8L524.50 534.8L524.50 534.8L523.50 534.8L523.50 534.6L523.00 534.6L523.00 532.4L522.50 532.4L522.50 530.3L522.00 530.3L522.00 527.8L521.50 527.8L521.50 526.2L521.00 526.2L521.00 525.8L520.50 525.8L520.50 525.5L520.00 525.5L520.00 522.9L519.50 522.9L519.50 523.0L519.00 523.0L519.00 523.2L518.50 523.2L518.50 524.8L518.00 524.8L518.00 526.9L517.50 526.9L517.50 527.5L516.50 527.5L516.50 526.9L516.00 526.9L516.00 521.3L515.50 521.3L515.50 516.0L515.00 516.0L515.00 511.0L514.50 511.0L514.50 509.2L514.00 509.2L514.00 507.7L513.50 507.7L513.50 508.0L513.00 508.0L513.00 508.6L512.50 508.6L512.50 509.3L512.00 509.3L512.00 509.4L511.00 509.4L511.00 519.5L510.50 519.5L510.50 520.9L510.00 520.9L510.00 522.2L508.50 522.2L508.50 519.1L508.00 519.1L508.00 509.9L507.50 509.9L507.50 504.4L507.00 504.4L507.00 492.2L506.50 492.2L506.50 494.1L506.00 494.1L506.00 498.3L505.50 498.3L505.50 505.2L505.00 505.2L505.00 508.0L504.50 508.0L504.50 510.5L503.00 510.5L503.00 507.7L502.50 507.7L502.50 498.3L502.00 498.3L502.00 484.6L501.50 484.6L501.50 477.4L501.00 477.4L501.00 474.6L500.50 474.6L500.50 460.5L500.00 460.5L500.00 472.8L499.50 472.8L499.50 474.1L499.00 474.1L499.00 474.5L498.50 474.5L498.50 478.4L498.00 478.4L498.00 488.0L497.50 488.0L497.50 503.0L497.00 503.0L497.00 504.5L496.00 504.5L496.00 503.7L495.50 503.7L495.50 499.1L495.00 499.1L495.00 496.7L494.50 496.7L494.50 485.2L494.00 485.2L494.00 465.2L493.50 465.2L493.50 468.6L493.00 468.6L493.00 495.8L492.50 495.8L492.50 500.5L491.50 500.5L491.50 517.2L491.00 517.2L491.00 519.1L489.50 519.1L489.50 516.4L489.00 516.4L489.00 516.5L487.50 516.5L487.50 516.2L487.00 516.2L487.00 515.6L486.50 515.6L486.50 515.2L486.00 515.2L486.00 513.8L485.50 513.8L485.50 512.3L484.00 512.3L484.00 512.0L483.50 512.0L483.50 514.9L483.00 514.9L483.00 516.2L482.50 516.2L482.50 518.1L482.00 518.1L482.00 518.3L481.00 518.3L481.00 518.2L480.50 518.2L480.50 514.0L480.00 514.0L480.00 495.5L479.50 495.5L479.50 507.7L479.00 507.7L479.00 509.2L478.50 509.2L478.50 511.9L478.00 511.9L478.00 516.5L477.50 516.5L477.50 519.8L476.00 519.8L476.00 519.5L475.50 519.5L475.50 526.0L475.00 526.0L475.00 528.3L474.50 528.3L474.50 528.5L473.50 528.5L473.50 528.2L473.00 528.2L473.00 525.6L472.50 525.6L472.50 522.9L472.00 522.9L472.00 520.1L471.50 520.1L471.50 515.9L471.00 515.9L471.00 511.7L470.50 511.7L470.50 509.9L470.00 509.9L470.00 509.1L469.50 509.1L469.50 508.3L469.00 508.3L469.00 504.3L468.50 504.3L468.50 503.0L468.00 503.0L468.00 505.2L467.50 505.2L467.50 506.9L467.00 506.9L467.00 507.1L466.50 507.1L466.50 507.3L466.00 507.3L466.00 508.0L465.50 508.0L465.50 513.3L465.00 513.3L465.00 517.5L463.50 517.5L463.50 517.1L463.00 517.1L463.00 516.2L462.50 516.2L462.50 515.4L462.00 515.4L462.00 515.2L461.50 515.2L461.50 516.9L461.00 516.9L461.00 517.3L460.50 517.3L460.50 518.2L460.00 518.2L460.00 518.3L458.00 518.3L458.00 517.5L457.50 517.5L457.50 517.0L457.00 517.0L457.00 516.5L456.50 516.5L456.50 505.4L456.00 505.4L456.00 510.3L455.50 510.3L455.50 512.9L455.00 512.9L455.00 515.1L454.50 515.1L454.50 517.5L454.00 517.5L454.00 523.0L452.50 523.0L452.50 522.6L452.00 522.6L452.00 521.9L451.50 521.9L451.50 516.5L450.00 516.5L450.00 504.0L449.50 504.0L449.50 501.1L449.00 501.1L449.00 495.5L448.50 495.5L448.50 502.1L448.00 502.1L448.00 504.2L446.50 504.2L446.50 507.1L446.00 507.1L446.00 507.8L445.50 507.8L445.50 508.5L445.00 508.5L445.00 509.2L444.50 509.2L444.50 509.5L443.00 509.5L443.00 505.6L442.50 505.6L442.50 499.1L442.00 499.1L442.00 485.4L441.50 485.4L441.50 481.3L441.00 481.3L441.00 480.7L440.50 480.7L440.50 480.2L440.00 480.2L440.00 479.6L439.50 479.6L439.50 480.0L439.00 480.0L439.00 480.9L438.50 480.9L438.50 482.2L438.00 482.2L438.00 485.1L437.50 485.1L437.50 492.8L437.00 492.8L437.00 500.9L436.50 500.9L436.50 503.3L435.00 503.3L435.00 501.8L434.50 501.8L434.50 500.1L434.00 500.1L434.00 498.5L433.50 498.5L433.50 455.5L432.50 455.5L432.50 451.8L432.00 451.8L432.00 444.3L431.50 444.3L431.50 441.5L430.50 441.5L430.50 438.5L429.00 438.5L429.00 433.8L428.50 433.8L428.50 436.7L427.50 436.7L427.50 433.6L427.00 433.6L427.00 434.6L426.50 434.6L426.50 470.5L425.50 470.5L425.50 482.6L425.00 482.6L425.00 496.1L424.50 496.1L424.50 497.5L423.50 497.5L423.50 497.5L423.00 497.5L423.00 501.7L422.50 501.7L422.50 502.5L421.00 502.5L421.00 497.1L420.50 497.1L420.50 493.0L420.00 493.0L420.00 491.6L419.50 491.6L419.50 486.8L419.00 486.8L419.00 492.5L418.50 492.5L418.50 495.0L418.00 495.0L418.00 497.5L417.50 497.5L417.50 497.8L416.50 497.8L416.50 497.7L416.00 497.7L416.00 496.7L415.50 496.7L415.50 495.7L415.00 495.7L415.00 494.7L414.50 494.7L414.50 493.7L414.00 493.7L414.00 475.5L413.50 475.5L413.50 475.5L412.50 475.5L412.50 475.2L412.00 475.2L412.00 461.0L411.50 461.0L411.50 459.3L411.00 459.3L411.00 459.1L410.50 459.1L410.50 456.8L410.00 456.8L410.00 440.5L409.00 440.5L409.00 439.6L408.50 439.6L408.50 437.5L408.00 437.5L408.00 437.5L407.00 437.5L407.00 437.0L406.50 437.0L406.50 427.2L406.00 427.2L406.00 430.6L405.50 430.6L405.50 475.5L405.00 475.5L405.00 493.8L403.50 493.8L403.50 486.3L403.00 486.3L403.00 481.4L402.50 481.4L402.50 481.0L402.00 481.0L402.00 480.5L401.50 480.5L401.50 480.0L401.00 480.0L401.00 482.0L399.50 482.0L399.50 478.6L399.00 478.6L399.00 462.5L398.00 462.5L398.00 450.1L397.50 450.1L397.50 442.1L397.00 442.1L397.00 440.9L396.00 440.9L396.00 442.1L395.50 442.1L395.50 442.4L395.00 442.4L395.00 442.4L394.00 442.4L394.00 448.2L393.50 448.2L393.50 449.5L393.00 449.5L393.00 450.8L392.50 450.8L392.50 451.5L391.00 451.5L391.00 448.9L390.50 448.9L390.50 422.0L390.00 422.0L390.00 410.5L389.50 410.5L389.50 410.3L389.00 410.3L389.00 408.7L388.50 408.7L388.50 407.1L388.00 407.1L388.00 380.5L387.00 380.5L387.00 368.8L386.50 368.8L386.50 352.8L386.00 352.8L386.00 344.0L385.50 344.0L385.50 343.9L385.00 343.9L385.00 345.0L384.50 345.0L384.50 349.8L384.00 349.8L384.00 354.3L383.50 354.3L383.50 354.8L382.50 354.8L382.50 352.8L382.00 352.8L382.00 298.1L381.50 298.1L381.50 223.4L381.00 223.4L381.00 215.5L380.50 215.5L380.50 302.0L380.00 302.0L380.00 372.5L379.50 372.5L379.50 419.1L379.00 419.1L379.00 453.7L378.50 453.7L378.50 477.5L377.00 477.5L377.00 477.0L376.50 477.0L376.50 475.3L376.00 475.3L376.00 474.1L375.50 474.1L375.50 473.7L375.00 473.7L375.00 475.2L374.50 475.2L374.50 479.4L374.00 479.4L374.00 489.3L373.50 489.3L373.50 492.3L372.00 492.3L372.00 470.3L371.50 470.3L371.50 454.3L371.00 454.3L371.00 453.0L370.50 453.0L370.50 451.8L370.00 451.8L370.00 452.1L368.50 452.1L368.50 452.5L368.00 452.5L368.00 457.0L367.50 457.0L367.50 471.0L367.00 471.0L367.00 476.3L366.50 476.3L366.50 478.9L365.00 478.9L365.00 475.4L364.50 475.4L364.50 476.2L364.00 476.2L364.00 478.7L363.50 478.7L363.50 488.3L362.00 488.3L362.00 487.7L361.50 487.7L361.50 485.9L361.00 485.9L361.00 485.1L360.50 485.1L360.50 486.2L360.00 486.2L360.00 490.9L359.50 490.9L359.50 498.8L359.00 498.8L359.00 503.2L358.50 503.2L358.50 507.6L358.00 507.6L358.00 512.1L357.50 512.1L357.50 512.5L356.50 512.5L356.50 512.4L356.00 512.4L356.00 515.6L355.50 515.6L355.50 517.5L354.00 517.5L354.00 517.2L353.50 517.2L353.50 526.9L353.00 526.9L353.00 529.3L352.50 529.3L352.50 530.5L351.00 530.5L351.00 529.7L350.50 529.7L350.50 528.6L350.00 528.6L350.00 529.3L349.50 529.3L349.50 530.5L349.00 530.5L349.00 530.9L348.00 530.9L348.00 530.9L347.50 530.9L347.50 530.4L347.00 530.4L347.00 530.0L346.50 530.0L346.50 529.6L346.00 529.6L346.00 529.1L345.50 529.1L345.50 519.1L345.00 519.1L345.00 516.5L344.00 516.5L344.00 516.4L343.50 516.4L343.50 516.0L343.00 516.0L343.00 515.6L342.50 515.6L342.50 510.2L341.00 510.2L341.00 516.4L340.50 516.4L340.50 517.3L340.00 517.3L340.00 518.3L339.50 518.3L339.50 519.4L339.00 519.4L339.00 519.5L338.00 519.5L338.00 519.4L337.50 519.4L337.50 521.8L337.00 521.8L337.00 523.0L335.50 523.0L335.50 522.8L335.00 522.8L335.00 526.4L334.50 526.4L334.50 527.2L334.00 527.2L334.00 528.0L333.50 528.0L333.50 528.5L332.00 528.5L332.00 528.1L331.50 528.1L331.50 527.3L331.00 527.3L331.00 527.0L330.50 527.0L330.50 526.7L330.00 526.7L330.00 526.4L329.50 526.4L329.50 526.4L328.50 526.4L328.50 527.1L328.00 527.1L328.00 527.3L327.50 527.3L327.50 527.7L327.00 527.7L327.00 528.2L326.50 528.2L326.50 528.5L325.00 528.5L325.00 526.2L324.50 526.2L324.50 521.7L324.00 521.7L324.00 520.1L323.50 520.1L323.50 518.3L323.00 518.3L323.00 516.7L322.50 516.7L322.50 520.6L322.00 520.6L322.00 520.9L321.50 520.9L321.50 521.2L321.00 521.2L321.00 521.5L319.50 521.5L319.50 521.4L319.00 521.4L319.00 521.6L318.50 521.6L318.50 522.2L318.00 522.2L318.00 522.9L317.50 522.9L317.50 523.0L316.50 523.0L316.50 522.6L316.00 522.6L316.00 518.1L315.50 518.1L315.50 513.6L315.00 513.6L315.00 512.5L314.50 512.5L314.50 513.2L314.00 513.2L314.00 513.5L313.50 513.5L313.50 513.5L312.50 513.5L312.50 513.4L312.00 513.4L312.00 512.4L311.50 512.4L311.50 511.4L311.00 511.4L311.00 510.4L310.50 510.4L310.50 503.6L310.00 503.6L310.00 500.1L309.50 500.1L309.50 501.6L309.00 501.6L309.00 503.1L308.50 503.1L308.50 503.8L307.00 503.8L307.00 504.4L306.50 504.4L306.50 505.2L306.00 505.2L306.00 505.7L304.50 505.7L304.50 504.1L304.00 504.1L304.00 497.0L303.50 497.0L303.50 497.2L303.00 497.2L303.00 498.5L302.50 498.5L302.50 499.9L302.00 499.9L302.00 500.9L300.50 500.9L300.50 500.6L300.00 500.6L300.00 500.0L299.50 500.0L299.50 499.4L299.00 499.4L299.00 494.8L298.50 494.8L298.50 493.1L297.50 493.1L297.50 492.8L297.00 492.8L297.00 491.6L296.50 491.6L296.50 490.5L296.00 490.5L296.00 482.4L295.50 482.4L295.50 481.8L295.00 481.8L295.00 482.0L293.50 482.0L293.50 481.8L293.00 481.8L293.00 481.0L292.50 481.0L292.50 480.3L292.00 480.3L292.00 477.9L291.50 477.9L291.50 478.9L290.00 478.9L290.00 474.5L289.50 474.5L289.50 465.7L289.00 465.7L289.00 457.0L288.50 457.0L288.50 441.7L288.00 441.7L288.00 425.5L287.50 425.5L287.50 420.6L287.00 420.6L287.00 418.7L286.50 418.7L286.50 420.7L286.00 420.7L286.00 420.9L285.50 420.9L285.50 421.2L285.00 421.2L285.00 421.4L284.50 421.4L284.50 424.3L284.00 424.3L284.00 434.0L283.50 434.0L283.50 445.7L283.00 445.7L283.00 451.5L281.50 451.5L281.50 431.7L281.00 431.7L281.00 403.3L280.50 403.3L280.50 396.0L280.00 396.0L280.00 380.5L279.50 380.5L279.50 389.2L279.00 389.2L279.00 389.9L277.50 389.9L277.50 393.6L277.00 393.6L277.00 396.0L276.50 396.0L276.50 414.5L276.00 414.5L276.00 429.4L275.50 429.4L275.50 435.9L275.00 435.9L275.00 443.5L274.50 443.5L274.50 453.5L274.00 453.5L274.00 463.7L273.50 463.7L273.50 474.3L273.00 474.3L273.00 484.9L272.50 484.9L272.50 486.0L271.50 486.0L271.50 485.9L271.00 485.9L271.00 485.0L270.50 485.0L270.50 484.2L270.00 484.2L270.00 483.3L269.50 483.3L269.50 475.7L269.00 475.7L269.00 466.8L268.00 466.8L268.00 465.7L267.50 465.7L267.50 464.5L267.00 464.5L267.00 448.3L266.00 448.3L266.00 440.5L265.00 440.5L265.00 439.5L264.50 439.5L264.50 434.5L264.00 434.5L264.00 415.5L263.50 415.5L263.50 394.1L263.00 394.1L263.00 401.3L262.50 401.3L262.50 425.5L262.00 425.5L262.00 437.5L261.50 437.5L261.50 447.8L261.00 447.8L261.00 462.5L260.50 462.5L260.50 475.7L259.00 475.7L259.00 475.2L258.50 475.2L258.50 473.6L258.00 473.6L258.00 465.3L257.50 465.3L257.50 450.5L256.50 450.5L256.50 450.3L256.00 450.3L256.00 449.9L255.50 449.9L255.50 449.4L255.00 449.4L255.00 449.0L254.50 449.0L254.50 444.5L254.00 444.5L254.00 447.9L253.50 447.9L253.50 454.2L253.00 454.2L253.00 458.0L251.50 458.0L251.50 457.7L251.00 457.7L251.00 457.4L250.50 457.4L250.50 457.1L250.00 457.1L250.00 456.8L249.50 456.8L249.50 452.8L248.50 452.8L248.50 453.5L248.00 453.5L248.00 466.6L247.50 466.6L247.50 468.0L247.00 468.0L247.00 469.3L246.50 469.3L246.50 471.5L246.00 471.5L246.00 482.0L245.50 482.0L245.50 491.5L244.00 491.5L244.00 487.6L243.50 487.6L243.50 474.4L243.00 474.4L243.00 469.8L242.50 469.8L242.50 468.8L242.00 468.8L242.00 468.1L241.50 468.1L241.50 460.5L240.50 460.5L240.50 456.8L240.00 456.8L240.00 449.2L239.50 449.2L239.50 453.2L239.00 453.2L239.00 463.1L238.50 463.1L238.50 472.4L238.00 472.4L238.00 474.5L237.00 474.5L237.00 474.3L236.50 474.3L236.50 473.9L236.00 473.9L236.00 473.4L235.50 473.4L235.50 460.4L235.00 460.4L235.00 465.0L234.50 465.0L234.50 468.5L234.00 468.5L234.00 471.3L233.50 471.3L233.50 474.2L233.00 474.2L233.00 475.0L232.00 475.0L232.00 473.0L231.50 473.0L231.50 459.7L231.00 459.7L231.00 458.5L230.50 458.5L230.50 458.9L230.00 458.9L230.00 459.1L228.50 459.1L228.50 460.5L228.00 460.5L228.00 470.7L227.50 470.7L227.50 486.0L226.00 486.0L226.00 483.7L225.50 483.7L225.50 475.9L225.00 475.9L225.00 470.1L224.50 470.1L224.50 468.7L224.00 468.7L224.00 467.3L223.50 467.3L223.50 458.9L223.00 458.9L223.00 459.1L222.50 459.1L222.50 459.3L221.00 459.3L221.00 455.5L220.50 455.5L220.50 449.7L220.00 449.7L220.00 448.7L219.50 448.7L219.50 448.2L219.00 448.2L219.00 447.8L218.50 447.8L218.50 447.2L218.00 447.2L218.00 448.4L217.50 448.4L217.50 450.5L216.00 450.5L216.00 437.1L215.50 437.1L215.50 430.5L215.00 430.5L215.00 424.5L214.00 424.5L214.00 405.5L213.50 405.5L213.50 399.9L213.00 399.9L213.00 410.5L212.50 410.5L212.50 427.9L212.00 427.9L212.00 430.5L211.50 430.5L211.50 476.8L211.00 476.8L211.00 489.3L210.50 489.3L210.50 493.1L209.00 493.1L209.00 489.4L208.50 489.4L208.50 478.4L208.00 478.4L208.00 478.6L207.50 478.6L207.50 478.7L206.00 478.7L206.00 478.5L205.50 478.5L205.50 478.6L205.00 478.6L205.00 478.9L203.50 478.9L203.50 471.4L203.00 471.4L203.00 463.7L202.50 463.7L202.50 457.9L202.00 457.9L202.00 456.7L201.50 456.7L201.50 456.2L201.00 456.2L201.00 453.3L200.50 453.3L200.50 435.5L199.50 435.5L199.50 434.8L199.00 434.8L199.00 455.3L198.50 455.3L198.50 464.5L198.00 464.5L198.00 471.5L196.50 471.5L196.50 470.9L196.00 470.9L196.00 471.2L195.00 471.2L195.00 475.6L194.50 475.6L194.50 481.2L194.00 481.2L194.00 482.0L192.50 482.0L192.50 481.8L192.00 481.8L192.00 485.0L191.50 485.0L191.50 485.2L190.50 485.2L190.50 485.2L190.00 485.2L190.00 484.8L189.50 484.8L189.50 484.4L188.50 484.4L188.50 484.4L188.00 484.4L188.00 490.2L187.50 490.2L187.50 490.5L186.50 490.5L186.50 490.2L186.00 490.2L186.00 487.7L185.50 487.7L185.50 487.5L185.00 487.5L185.00 500.3L184.50 500.3L184.50 502.3L184.00 502.3L184.00 504.1L182.50 504.1L182.50 503.9L182.00 503.9L182.00 503.9L181.50 503.9L181.50 504.0L181.00 504.0L181.00 504.4L180.50 504.4L180.50 504.5L179.50 504.5L179.50 504.5L179.00 504.5L179.00 506.1L178.50 506.1L178.50 506.7L178.00 506.7L178.00 507.3L177.50 507.3L177.50 507.9L177.00 507.9L177.00 508.4L176.50 508.4L176.50 508.5L175.50 508.5L175.50 508.4L175.00 508.4L175.00 507.2L174.50 507.2L174.50 506.0L174.00 506.0L174.00 504.3L173.50 504.3L173.50 504.4L172.00 504.4L172.00 504.0L171.50 504.0L171.50 504.5L171.00 504.5L171.00 505.0L170.50 505.0L170.50 506.4L170.00 506.4L170.00 509.3L169.50 509.3L169.50 512.2L169.00 512.2L169.00 516.6L168.50 516.6L168.50 521.2L168.00 521.2L168.00 523.5L166.50 523.5L166.50 523.4L166.00 523.4L166.00 523.2L165.50 523.2L165.50 523.0L165.00 523.0L165.00 520.1L164.50 520.1L164.50 521.4L164.00 521.4L164.00 522.6L163.50 522.6L163.50 524.5L162.00 524.5L162.00 524.2L161.50 524.2L161.50 523.0L161.00 523.0L161.00 522.3L160.50 522.3L160.50 523.3L160.00 523.3L160.00 524.6L159.50 524.6L159.50 527.5L158.00 527.5L158.00 526.3L157.50 526.3L157.50 526.2L157.00 526.2L157.00 526.9L155.50 526.9L155.50 525.8L155.00 525.8L155.00 521.2L154.50 521.2L154.50 522.5L154.00 522.5L154.00 523.8L153.50 523.8L153.50 525.0L152.00 525.0L152.00 523.4L151.50 523.4L151.50 518.3L151.00 518.3L151.00 516.6L150.50 516.6L150.50 515.7L150.00 515.7L150.00 515.4L149.50 515.4L149.50 514.1L149.00 514.1L149.00 514.3L148.50 514.3L148.50 515.3L148.00 515.3L148.00 517.2L147.50 517.2L147.50 521.3L147.00 521.3L147.00 524.5L145.50 524.5L145.50 521.8L145.00 521.8L145.00 517.9L144.50 517.9L144.50 515.8L144.00 515.8L144.00 514.7L143.50 514.7L143.50 515.9L143.00 515.9L143.00 516.4L142.50 516.4L142.50 516.5L141.00 516.5L141.00 513.4L140.50 513.4L140.50 511.6L140.00 511.6L140.00 510.0L139.50 510.0L139.50 510.8L139.00 510.8L139.00 511.3L138.50 511.3L138.50 512.2L138.00 512.2L138.00 513.3L137.50 513.3L137.50 515.1L137.00 515.1L137.00 522.7L136.50 522.7L136.50 530.8L136.00 530.8L136.00 534.8L134.50 534.8L134.50 534.3L134.00 534.3L134.00 533.5L133.50 533.5L133.50 532.7L133.00 532.7L133.00 531.9L132.50 531.9L132.50 524.9L132.00 524.9L132.00 525.0L131.50 525.0L131.50 525.2L131.00 525.2L131.00 525.2L130.00 525.2L130.00 525.1L129.50 525.1L129.50 526.2L129.00 526.2L129.00 526.4L128.50 526.4L128.50 526.9L127.00 526.9L127.00 525.7L126.50 525.7L126.50 523.2L126.00 523.2L126.00 522.0L125.50 522.0L125.50 521.3L125.00 521.3L125.00 522.0L124.50 522.0L124.50 522.2L124.00 522.2L124.00 522.5L123.50 522.5L123.50 522.5L122.50 522.5L122.50 522.4L122.00 522.4L122.00 522.0L121.50 522.0L121.50 520.1L121.00 520.1L121.00 520.3L120.50 520.3L120.50 520.3L119.50 520.3L119.50 522.1L119.00 522.1L119.00 522.3L118.50 522.3L118.50 522.8L118.00 522.8L118.00 522.9L117.00 522.9L117.00 522.3L116.50 522.3L116.50 516.5L116.00 516.5L116.00 513.1L115.50 513.1L115.50 511.4L115.00 511.4L115.00 510.9L114.50 510.9L114.50 511.4L114.00 511.4L114.00 511.5L113.00 511.5L113.00 514.0L112.50 514.0L112.50 514.5L112.00 514.5L112.00 515.1L110.50 515.1L110.50 514.8L110.00 514.8L110.00 514.3L109.50 514.3L109.50 513.8L109.00 513.8L109.00 513.3L108.50 513.3L108.50 512.8L108.00 512.8L108.00 497.5L106.50 497.5L106.50 497.2L106.00 497.2L106.00 496.5L105.50 496.5L105.50 496.1L105.00 496.1L105.00 495.9L104.50 495.9L104.50 492.0L104.00 492.0L104.00 493.9L103.50 493.9L103.50 496.0L103.00 496.0L103.00 496.2L102.00 496.2L102.00 496.2L101.50 496.2L101.50 495.9L101.00 495.9L101.00 495.7L100.50 495.7L100.50 495.8L100.00 495.8L100.00 496.2L99.50 496.2L99.50 497.4L99.00 497.4L99.00 497.5L98.00 497.5L98.00 502.4L97.50 502.4L97.50 503.3L97.00 503.3L97.00 504.0L95.50 504.0L95.50 503.6L95.00 503.6L95.00 502.8L94.50 502.8L94.50 502.0L94.00 502.0L94.00 501.2L93.50 501.2L93.50 499.8L93.00 499.8L93.00 500.0L92.50 500.0L92.50 500.1L91.50 500.1L91.50 500.0L91.00 500.0L91.00 500.1L90.50 500.1L90.50 500.2L90.00 500.2L90.00 500.5L88.50 500.5L88.50 492.6L88.00 492.6L88.00 466.4L87.50 466.4L87.50 459.3L87.00 459.3L87.00 451.9L86.50 451.9L86.50 444.5L86.00 444.5L86.00 442.4L85.50 442.4L85.50 445.3L85.00 445.3L85.00 459.4L84.50 459.4L84.50 463.5L83.00 463.5L83.00 455.3L82.50 455.3L82.50 444.9L82.00 444.9L82.00 439.5L81.00 439.5L81.00 432.4L80.50 432.4L80.50 425.5L80.00 425.5L80.00 424.9L79.50 424.9L79.50 430.7L79.00 430.7L79.00 456.3L78.50 456.3L78.50 488.0L78.00 488.0L78.00 497.5L76.50 497.5L76.50 496.2L76.00 496.2L76.00 490.5L75.00 490.5L75.00 489.3L74.50 489.3L74.50 486.5L73.50 486.5L73.50 483.5L73.00 483.5L73.00 482.5L72.50 482.5L72.50 482.0L72.00 482.0L72.00 478.5L71.00 478.5L71.00 476.5L70.50 476.5L70.50 475.9L69.50 475.9L69.50 474.1L69.00 474.1Z" fill="#2262a5" stroke="#2262a5" stroke-width="0.9" stroke-linejoin="round"/>
<g font-size="13" fill="#1fae54"><text x="83" y="386.3" textLength="29.4" lengthAdjust="spacingAndGlyphs">1/91</text><text x="168.3" y="362.3" textLength="36.6" lengthAdjust="spacingAndGlyphs">11/97</text><text x="195.2" y="319.8" textLength="29.4" lengthAdjust="spacingAndGlyphs">9/98</text><text x="269" y="335.8" textLength="29.4" lengthAdjust="spacingAndGlyphs">8/02</text><text x="361" y="102.8" textLength="36.6" lengthAdjust="spacingAndGlyphs">10/08</text><text x="529" y="404.4" textLength="36.6" lengthAdjust="spacingAndGlyphs">12/18</text><text x="549.4" y="183.3" textLength="29.4" lengthAdjust="spacingAndGlyphs">3/20</text><text x="606.5" y="393.8" textLength="36.6" lengthAdjust="spacingAndGlyphs">10/22</text><text x="637.5" y="311" textLength="29.4" lengthAdjust="spacingAndGlyphs">4/25</text><text x="662.7" y="396.6" font-size="12.5" textLength="20.3" lengthAdjust="spacingAndGlyphs">???</text></g>
<text x="251.4" y="552.4" font-size="15.5" fill="#111" textLength="258" lengthAdjust="spacingAndGlyphs">PaulsenPerspectives.Substack.com</text>
</svg>
</body></html>
